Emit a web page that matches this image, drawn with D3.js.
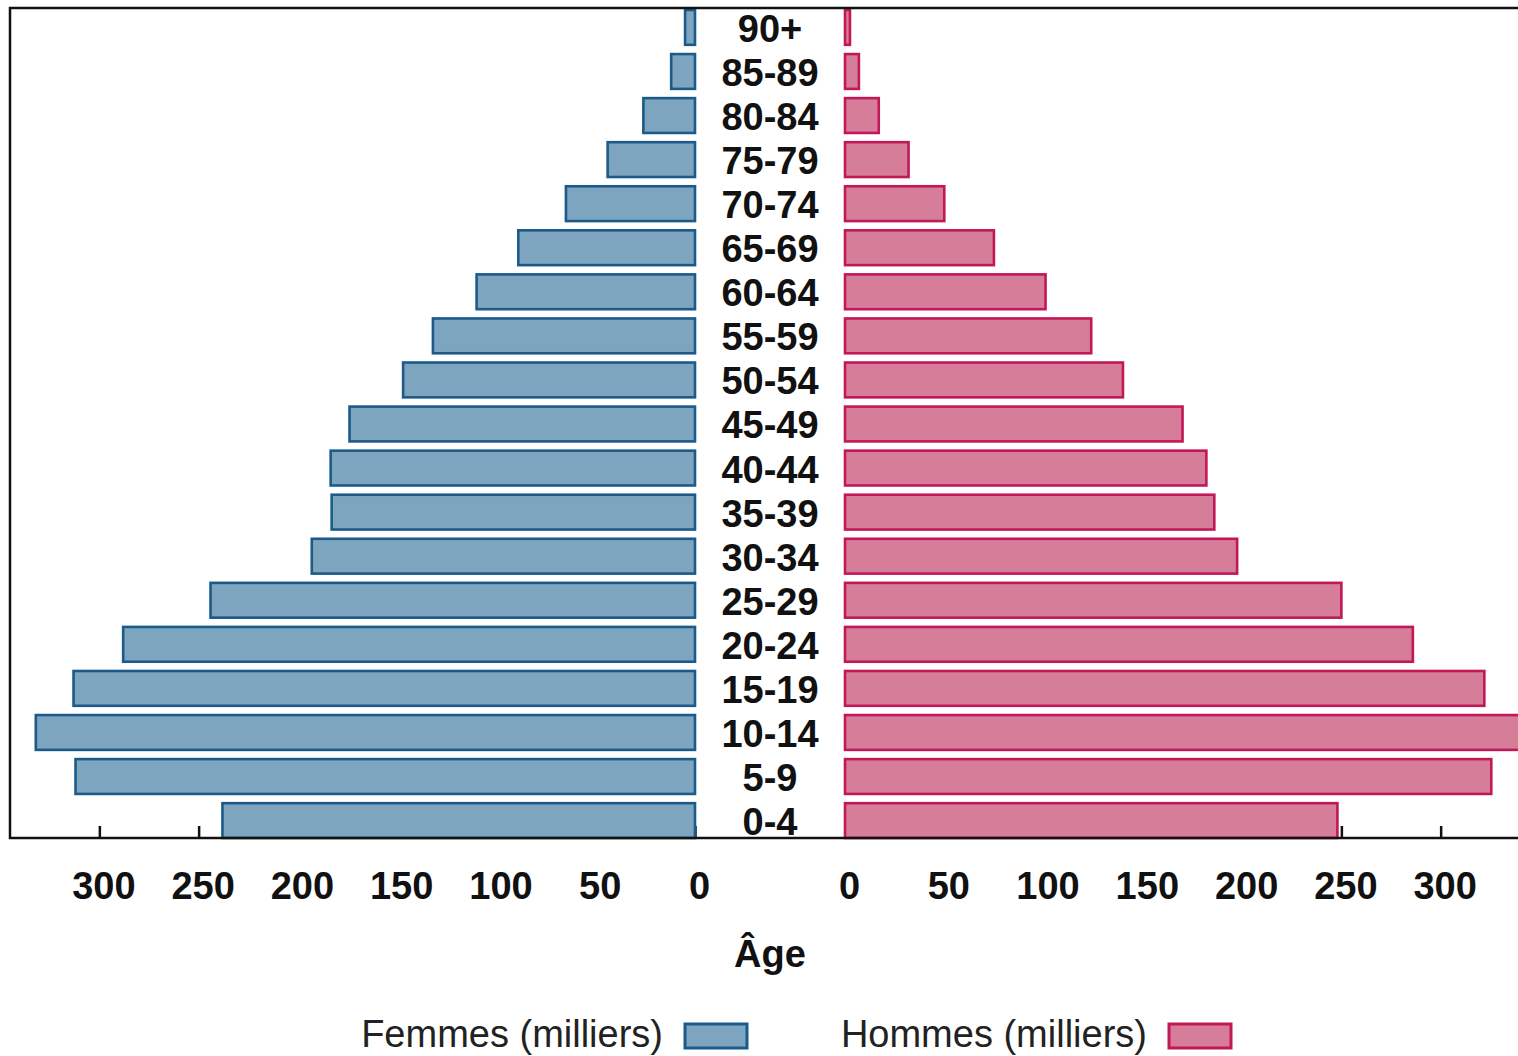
<!DOCTYPE html>
<html>
<head>
<meta charset="utf-8">
<script src="https://cdn.jsdelivr.net/npm/d3@7/dist/d3.min.js"></script>
<style>
  body { margin: 0; background: #fff; }
  svg { display: block; font-family: "Liberation Sans", Arial, sans-serif; }
</style>
</head>
<body>
<svg id="pyramid" width="1518" height="1056"></svg>
<script>
// age groups, top to bottom
var ageGroups = ["90+", "85-89", "80-84", "75-79", "70-74", "65-69", "60-64", "55-59", "50-54",
                 "45-49", "40-44", "35-39", "30-34", "25-29", "20-24", "15-19", "10-14", "5-9", "0-4"];
// thousands
var femmes = [5, 12, 26, 44, 65, 89, 110, 132, 147, 174, 183.5, 183, 193, 244, 288, 313, 332, 312, 238];
var hommes = [2.5, 7, 17, 32, 50, 75, 101, 124, 140, 170, 182, 186, 197.5, 250, 286, 322, 343, 325.5, 248];
var tickValues = [0, 50, 100, 150, 200, 250, 300];
var seriesNames = ["Femmes (milliers)", "Hommes (milliers)"];

var svg = d3.select("#pyramid"),
    plotTop = 10, plotBottom = 838,
    frameLeft = 10, frameRight = 1530,
    zeroL = 695, zeroR = 845,
    maxVal = 345;

var colFill = {f: "#7ea5bf", h: "#d67d9a"},
    colLine = {f: "#1b5a89", h: "#c21858"};

var xL = d3.scaleLinear().domain([0, maxVal]).range([zeroL, frameLeft]);
var xR = d3.scaleLinear().domain([0, maxVal]).range([zeroR, frameRight]);
var y = d3.scaleBand().domain(ageGroups).range([plotTop, plotBottom]).paddingInner(0.21).paddingOuter(0);

var rows = ageGroups.map(function(a, i) { return {age: a, f: femmes[i], h: hommes[i]}; });

// axes (ticks inside, drawn under the bars)
function styleAxis(g) {
  g.select(".domain").remove();
  g.selectAll(".tick line").attr("stroke", "#111").attr("stroke-width", 2.5);
  g.selectAll(".tick text")
    .attr("font-family", "Liberation Sans, Arial, sans-serif")
    .attr("font-size", 38)
    .attr("font-weight", "bold")
    .attr("fill", "#111")
    .attr("dx", 4);
}

svg.append("g")
    .attr("transform", "translate(0," + plotBottom + ")")
    .call(d3.axisBottom(xL).tickValues(tickValues).tickSizeInner(-12).tickSizeOuter(0).tickPadding(34))
    .call(styleAxis);

svg.append("g")
    .attr("transform", "translate(0," + plotBottom + ")")
    .call(d3.axisBottom(xR).tickValues(tickValues).tickSizeInner(-12).tickSizeOuter(0).tickPadding(34))
    .call(styleAxis);

// bars
svg.append("g").selectAll("rect")
  .data(rows)
  .enter().append("rect")
    .attr("x", function(d) { return xL(d.f); })
    .attr("y", function(d) { return y(d.age); })
    .attr("width", function(d) { return xL(0) - xL(d.f); })
    .attr("height", y.bandwidth())
    .attr("fill", colFill.f)
    .attr("stroke", colLine.f)
    .attr("stroke-width", 2.6);

svg.append("g").selectAll("rect")
  .data(rows)
  .enter().append("rect")
    .attr("x", xR(0))
    .attr("y", function(d) { return y(d.age); })
    .attr("width", function(d) { return xR(d.h) - xR(0); })
    .attr("height", y.bandwidth())
    .attr("fill", colFill.h)
    .attr("stroke", colLine.h)
    .attr("stroke-width", 2.6);

// frame
svg.append("path")
    .attr("d", "M" + frameRight + "," + (plotTop - 2) + "H" + frameLeft + "V" + plotBottom + "H" + frameRight)
    .attr("fill", "none")
    .attr("stroke", "#111")
    .attr("stroke-width", 2.5);

// age labels in the middle column
svg.append("g").selectAll("text")
  .data(ageGroups)
  .enter().append("text")
    .attr("x", (zeroL + zeroR) / 2)
    .attr("y", function(d) { return y(d) + y.bandwidth() / 2; })
    .attr("dy", "0.38em")
    .attr("text-anchor", "middle")
    .attr("font-size", 38)
    .attr("font-weight", "bold")
    .attr("fill", "#111")
    .text(function(d) { return d; });

svg.append("text")
    .attr("x", (zeroL + zeroR) / 2)
    .attr("y", 967)
    .attr("text-anchor", "middle")
    .attr("font-size", 38)
    .attr("font-weight", "bold")
    .attr("fill", "#111")
    .text("Âge");

// legend
var legend = svg.append("g").selectAll("g")
  .data([{name: seriesNames[0], k: "f", x: 663}, {name: seriesNames[1], k: "h", x: 1147}])
  .enter().append("g")
    .attr("transform", function(d) { return "translate(" + d.x + ",1047)"; });

legend.append("text")
    .attr("text-anchor", "end")
    .attr("font-size", 38)
    .attr("fill", "#222")
    .text(function(d) { return d.name; });

legend.append("rect")
    .attr("x", 22)
    .attr("y", -23)
    .attr("width", 62)
    .attr("height", 24)
    .attr("fill", function(d) { return colFill[d.k]; })
    .attr("stroke", function(d) { return colLine[d.k]; })
    .attr("stroke-width", 3);
</script>
</body>
</html>
